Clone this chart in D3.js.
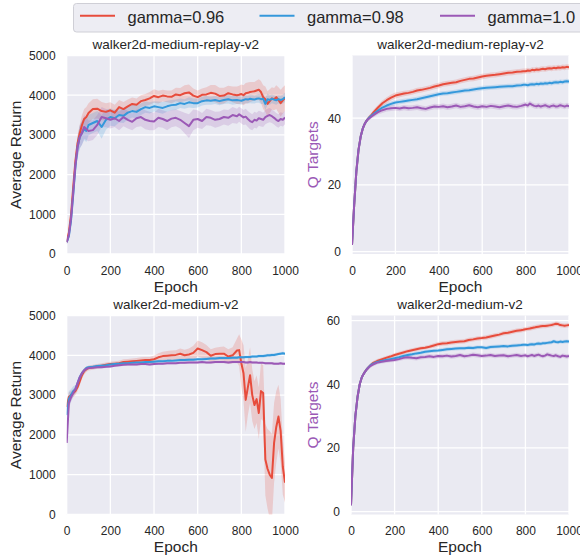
<!DOCTYPE html>
<html>
<head>
<meta charset="utf-8">
<script src="https://cdn.jsdelivr.net/npm/d3@7"></script>
<style>
  body { margin: 0; background: #fff; }
  text { font-family: "Liberation Sans", Arial, sans-serif; fill: #262626; }
</style>
</head>
<body>
<script>
// epochs shared by every series (denser at the start and near the end)
var epochs = [0,10,20,30,40,50,60,70,80,90,100,
  120,140,160,180,200,220,240,260,280,300,320,340,360,380,400,420,440,460,480,500,
  520,540,560,580,600,620,640,660,680,700,720,740,760,780,
  790,800,810,820,830,840,850,860,870,880,890,900,910,920,930,940,950,960,970,980,990,1000];

var seriesNames = ["gamma=0.96", "gamma=0.98", "gamma=1.0"];
var seriesColors = ["#e74c3c", "#3498db", "#9b59b6"];

var xTicks = [0, 200, 400, 600, 800, 1000];
var returnTicks = [0, 1000, 2000, 3000, 4000, 5000];
var qTicksTop = [0, 20, 40];
var qTicksBottom = [0, 20, 40, 60];

// ---- walker2d-medium-replay-v2, average return ----
var replayReturn096 = [300,550,1000,1700,2350,2800,3050,3250,3400,3450,3550,
  3650,3660,3600,3580,3620,3560,3700,3650,3720,3780,3760,3850,3880,3920,3980,3950,3990,3970,3960,4020,
  4000,4050,4070,3990,3950,4010,4020,4060,4040,3980,3990,4050,4020,4000,
  4010,4030,4000,4050,4060,4080,4090,4100,4120,4140,4080,3950,3900,3780,3850,3920,3900,3950,3880,3800,3870,3930];
var replayReturn098 = [300,450,850,1500,2200,2700,2950,3050,3150,3100,3250,
  3300,3350,3200,3380,3450,3420,3500,3480,3560,3600,3580,3650,3700,3680,3720,3700,3680,3720,3750,3760,
  3800,3780,3820,3800,3800,3850,3870,3860,3880,3850,3880,3900,3870,3880,
  3870,3860,3880,3900,3890,3910,3900,3890,3910,3920,3900,3910,3780,3900,3880,3910,3890,3870,3900,3880,3900,3950];
var replayReturn100 = [300,480,900,1550,2250,2700,2950,3050,3200,3150,3100,
  3120,3250,3450,3420,3380,3420,3350,3450,3380,3330,3420,3450,3380,3350,3340,3430,3400,3350,3410,3430,
  3380,3300,3220,3380,3400,3350,3450,3430,3380,3400,3450,3430,3500,3470,
  3520,3480,3440,3460,3400,3350,3320,3380,3360,3420,3400,3380,3450,3480,3500,3470,3430,3380,3350,3400,3380,3440];
var replayReturnSd096 = [60,100,150,200,200,200,220,250,250,250,250,
  250,250,230,220,200,200,180,180,170,160,160,150,150,160,170,160,150,150,160,170,
  180,200,200,180,170,160,180,200,220,210,200,190,200,220,
  230,240,250,260,260,250,240,230,250,260,280,300,320,320,300,280,280,300,320,340,330,320];
var replayReturnSd098 = [60,100,150,200,220,250,300,300,280,280,260,
  250,250,300,250,220,200,190,180,170,160,160,150,140,140,130,140,150,140,130,130,
  120,120,130,120,110,110,110,100,100,100,100,110,110,100,
  100,100,100,100,100,110,110,100,100,110,120,130,150,140,120,110,110,110,100,110,110,120];
var replayReturnSd100 = [60,100,150,200,220,250,280,300,300,280,260,
  250,250,250,230,220,220,230,230,220,210,220,230,240,230,220,230,220,230,220,210,
  220,260,300,260,220,200,210,200,200,190,190,200,200,190,
  190,190,190,200,200,210,200,200,200,190,190,180,180,180,180,170,170,170,170,170,170,170];

// ---- walker2d-medium-replay-v2, Q targets ----
var replayQ096 = [2,14,24,30.5,34.5,37,38.5,39.5,40.3,41,41.8,
  43.2,44.5,45.4,46.2,46.8,47.1,47.4,47.6,47.9,48.3,48.5,48.8,49.1,49.5,49.8,50.2,50.4,50.6,50.8,51.2,
  51.5,51.8,51.9,52.2,52.5,52.7,52.9,53.0,53.2,53.4,53.6,53.7,53.9,54.0,
  54.1,54.1,54.3,54.2,54.5,54.4,54.6,54.5,54.7,54.8,54.7,54.9,55.0,54.9,55.1,55.0,55.2,55.1,55.3,55.2,55.4,55.3];
var replayQ098 = [2,14,24,30.5,34.5,37,38.5,39.5,40.2,40.8,41.3,
  42.3,43.2,43.8,44.3,44.7,44.9,45.1,45.3,45.5,45.7,46.0,46.3,46.6,46.9,47.2,47.4,47.5,47.7,47.9,48.1,
  48.3,48.4,48.6,48.8,49.0,49.1,49.2,49.3,49.4,49.5,49.6,49.6,49.8,49.9,
  50.0,50.0,49.9,50.1,50.2,50.1,50.3,50.2,50.4,50.3,50.5,50.4,50.6,50.5,50.7,50.8,50.7,50.9,50.8,51.0,51.1,51.0];
var replayQ100 = [2,14,24,30.5,34.5,37,38.5,39.5,40.0,40.5,41.0,
  41.8,42.4,42.8,43.0,43.1,42.9,43.2,43.0,43.1,43.3,43.0,42.8,43.2,43.5,43.4,43.6,43.3,43.5,43.8,43.4,
  43.6,43.9,43.5,43.3,43.6,43.4,43.7,43.5,43.3,43.6,43.8,43.5,43.4,43.7,
  43.9,44.1,43.8,44.4,44.0,43.7,43.6,43.8,43.5,43.7,43.9,43.6,43.4,43.7,43.8,43.5,43.6,43.9,43.7,43.5,43.8,43.6];
var replayQSd096 = [0.3,0.5,0.6,0.6,0.6,0.6,0.6,0.6,0.7,0.7,0.8,
  0.8,0.8,0.9,0.9,0.9,0.8,0.8,0.8,0.8,0.8,0.8,0.8,0.8,0.8,0.8,0.8,0.8,0.8,0.8,0.8,
  0.8,0.8,0.8,0.8,0.8,0.8,0.8,0.8,0.8,0.8,0.8,0.8,0.8,0.8,
  0.8,0.8,0.8,0.8,0.8,0.8,0.8,0.8,0.8,0.8,0.8,0.8,0.8,0.8,0.8,0.8,0.8,0.8,0.8,0.8,0.8,0.8];
var replayQSd098 = [0.3,0.5,0.6,0.6,0.6,0.6,0.6,0.6,0.6,0.6,0.7,
  0.7,0.7,0.7,0.7,0.7,0.7,0.7,0.7,0.7,0.7,0.7,0.7,0.7,0.7,0.7,0.7,0.7,0.7,0.7,0.7,
  0.7,0.7,0.7,0.7,0.7,0.7,0.7,0.7,0.7,0.7,0.7,0.7,0.7,0.7,
  0.7,0.7,0.7,0.7,0.7,0.7,0.7,0.7,0.7,0.7,0.7,0.7,0.7,0.7,0.7,0.7,0.7,0.7,0.7,0.7,0.7,0.7];
var replayQSd100 = [0.3,0.5,0.6,0.6,0.6,0.6,0.6,0.6,0.6,0.6,0.7,
  0.7,0.8,0.8,0.8,0.8,0.8,0.8,0.8,0.8,0.8,0.8,0.8,0.8,0.8,0.8,0.8,0.8,0.8,0.8,0.8,
  0.8,0.8,0.8,0.8,0.8,0.8,0.8,0.8,0.8,0.8,0.8,0.8,0.8,0.8,
  0.8,0.8,0.8,0.8,0.8,0.8,0.8,0.8,0.8,0.8,0.8,0.8,0.8,0.8,0.8,0.8,0.8,0.8,0.8,0.8,0.8,0.8];

// ---- walker2d-medium-v2, average return ----
var mediumReturn096 = [2700,2950,3000,3050,3100,3200,3350,3500,3600,3650,3680,
  3700,3720,3740,3760,3780,3790,3800,3830,3840,3850,3860,3870,3880,3880,3900,3950,3980,3990,4000,4010,
  4040,4000,4020,4060,4170,4130,4080,3990,4030,4040,4040,3970,4000,4120,
  4130,3800,3550,2880,3200,3500,3000,2750,2900,2550,3100,3050,1380,1150,1000,920,1800,2200,2460,2100,1200,800];
var mediumReturn098 = [2500,2900,3000,3100,3150,3300,3450,3550,3620,3680,3700,
  3710,3730,3740,3750,3770,3780,3790,3800,3800,3810,3820,3820,3830,3830,3840,3850,3850,3860,3860,3870,
  3880,3880,3890,3890,3900,3900,3910,3920,3920,3930,3930,3930,3940,3940,
  3950,3950,3950,3960,3960,3960,3970,3970,3970,3980,3980,3980,3990,4000,4000,4010,4010,4020,4030,4040,4050,4040];
var mediumReturn100 = [1800,2800,2950,3050,3150,3300,3450,3550,3620,3660,3680,
  3690,3700,3700,3710,3720,3740,3750,3760,3770,3770,3770,3780,3780,3770,3780,3790,3790,3800,3800,3800,
  3810,3810,3820,3820,3820,3830,3820,3820,3830,3830,3830,3820,3830,3830,
  3830,3830,3830,3820,3820,3830,3820,3820,3820,3810,3810,3810,3800,3800,3800,3800,3790,3790,3790,3800,3790,3790];
var mediumReturnSd096 = [150,120,100,100,100,100,100,90,80,70,60,
  60,60,60,60,60,60,60,70,70,70,70,80,80,80,90,100,110,120,120,120,
  130,140,150,180,200,200,180,160,160,170,180,180,200,300,
  400,600,700,800,700,700,650,600,600,650,700,700,900,1000,1100,1100,1000,900,800,800,700,500];
var mediumReturnSd098 = [300,200,150,120,100,100,80,60,50,40,40,
  40,40,40,40,40,40,40,40,40,40,40,40,40,40,40,40,40,40,40,40,
  40,40,40,40,40,40,40,40,40,40,40,40,40,40,
  40,40,40,40,40,40,40,40,40,40,40,40,40,40,40,40,40,40,40,40,40,40];
var mediumReturnSd100 = [200,150,120,100,90,80,60,50,40,35,30,
  30,30,30,30,30,30,30,30,30,30,30,30,30,30,30,30,30,30,30,30,
  30,30,30,30,30,30,30,30,30,30,30,30,30,30,
  30,30,30,30,30,30,30,30,30,30,30,30,30,30,30,30,30,30,30,30,30,30];

// ---- walker2d-medium-v2, Q targets ----
var mediumQ096 = [2,20,30,36,40,42.3,43.5,44.5,45.3,46.0,46.6,
  47.3,47.8,48.3,48.7,49.2,49.6,50.0,50.4,50.7,51.0,51.3,51.5,51.8,52.2,52.6,52.8,52.9,53.1,53.3,53.4,
  53.5,53.9,54.1,54.4,54.5,54.7,55.0,55.3,55.6,56.0,56.2,56.5,56.8,57.0,
  57.1,57.3,57.4,57.5,57.7,57.8,58.0,58.1,58.2,58.3,58.3,58.4,58.5,58.6,58.8,59.0,58.9,58.6,58.5,58.4,58.5,58.6];
var mediumQ098 = [2,20,30,36,40,42.3,43.5,44.5,45.3,46.0,46.4,
  47.0,47.3,47.6,47.9,48.2,48.5,48.9,49.2,49.4,49.7,49.9,50.2,50.4,50.5,50.6,50.8,51.0,51.1,51.2,51.3,
  51.3,51.5,51.4,51.6,51.6,51.4,51.7,51.8,51.9,52.0,51.9,52.1,52.2,52.3,
  52.4,52.4,52.3,52.5,52.6,52.5,52.7,52.8,52.7,52.9,52.9,53.0,53.1,53.2,53.5,53.3,53.2,53.4,53.3,53.4,53.5,53.4];
var mediumQ100 = [2,20,30,36,40,42.3,43.5,44.5,45.2,45.8,46.2,
  46.8,47.1,47.3,47.5,47.6,47.9,48.3,48.5,48.3,48.2,48.5,48.6,48.8,48.6,48.9,48.8,49.0,48.7,48.9,49.2,
  48.8,49.0,49.3,49.1,48.9,49.0,49.2,48.9,49.0,49.1,48.8,49.0,49.2,48.9,
  49.0,49.1,48.8,49.0,49.2,48.9,49.1,49.3,49.0,48.8,49.0,49.4,49.2,49.0,48.9,49.1,48.8,48.6,49.0,48.9,48.7,48.9];
var mediumQSd096 = [0.3,0.6,0.6,0.6,0.6,0.6,0.6,0.6,0.6,0.6,0.6,
  0.6,0.6,0.6,0.6,0.6,0.6,0.6,0.6,0.6,0.6,0.6,0.6,0.6,0.7,0.7,0.7,0.7,0.7,0.7,0.7,
  0.7,0.7,0.7,0.7,0.7,0.7,0.7,0.7,0.7,0.7,0.7,0.7,0.7,0.7,
  0.7,0.7,0.7,0.7,0.7,0.7,0.7,0.7,0.7,0.7,0.7,0.7,0.7,0.7,0.7,0.7,0.7,0.7,0.7,0.7,0.7,0.7];
var mediumQSd098 = [0.3,0.6,0.6,0.6,0.6,0.6,0.6,0.6,0.6,0.6,0.6,
  0.6,0.6,0.6,0.6,0.6,0.6,0.6,0.6,0.6,0.6,0.6,0.6,0.6,0.6,0.6,0.6,0.6,0.6,0.6,0.6,
  0.6,0.6,0.6,0.6,0.6,0.6,0.6,0.6,0.6,0.6,0.6,0.6,0.6,0.6,
  0.6,0.6,0.6,0.6,0.6,0.6,0.6,0.6,0.6,0.6,0.6,0.6,0.6,0.6,0.6,0.6,0.6,0.6,0.6,0.6,0.6,0.6];
var mediumQSd100 = [0.3,0.6,0.6,0.6,0.6,0.6,0.6,0.6,0.6,0.6,0.6,
  0.6,0.6,0.6,0.6,0.6,0.6,0.7,0.7,0.7,0.7,0.7,0.7,0.7,0.7,0.7,0.7,0.7,0.7,0.7,0.7,
  0.7,0.7,0.7,0.7,0.7,0.7,0.7,0.7,0.7,0.7,0.7,0.7,0.7,0.7,
  0.7,0.7,0.7,0.7,0.7,0.7,0.7,0.7,0.7,0.7,0.7,0.7,0.7,0.7,0.7,0.7,0.7,0.7,0.7,0.7,0.7,0.7];

// panel layout (pixel boxes) + which arrays go where
var panels = [
  {left: 66.7, right: 285, top: 55.5, bottom: 254, yDomain: [0, 5000], yTicks: returnTicks,
   title: "walker2d-medium-replay-v2", yLabel: "Average Return", yLabelColor: "#262626", yLabelX: 16,
   means: [replayReturn096, replayReturn098, replayReturn100],
   sds: [replayReturnSd096, replayReturnSd098, replayReturnSd100]},
  {left: 352, right: 569, top: 55.5, bottom: 254, yDomain: [-0.7, 58.8], yTicks: qTicksTop,
   title: "walker2d-medium-replay-v2", yLabel: "Q Targets", yLabelColor: "#9b59b6", yLabelX: 313,
   means: [replayQ096, replayQ098, replayQ100],
   sds: [replayQSd096, replayQSd098, replayQSd100]},
  {left: 66.7, right: 285, top: 315.5, bottom: 514.5, yDomain: [0, 5000], yTicks: returnTicks,
   title: "walker2d-medium-v2", yLabel: "Average Return", yLabelColor: "#262626", yLabelX: 16,
   means: [mediumReturn096, mediumReturn098, mediumReturn100],
   sds: [mediumReturnSd096, mediumReturnSd098, mediumReturnSd100]},
  {left: 351, right: 569, top: 315.5, bottom: 514.5, yDomain: [-0.9, 61.6], yTicks: qTicksBottom,
   title: "walker2d-medium-v2", yLabel: "Q Targets", yLabelColor: "#9b59b6", yLabelX: 313,
   means: [mediumQ096, mediumQ098, mediumQ100],
   sds: [mediumQSd096, mediumQSd098, mediumQSd100]}
];

var svg = d3.select("body").append("svg")
    .attr("width", 580)
    .attr("height", 560);

panels.forEach(function(p, pi) {
    var x = d3.scaleLinear().domain([0, 1000]).range([p.left, p.right]);
    var y = d3.scaleLinear().domain(p.yDomain).range([p.bottom, p.top]);

    var g = svg.append("g");

    // clip so bands don't spill out of the axes
    svg.append("clipPath").attr("id", "clip" + pi)
      .append("rect")
        .attr("x", p.left).attr("y", p.top)
        .attr("width", p.right - p.left).attr("height", p.bottom - p.top);

    // background
    g.append("rect")
        .attr("x", p.left).attr("y", p.top)
        .attr("width", p.right - p.left).attr("height", p.bottom - p.top)
        .attr("fill", "#eaeaf2");

    // white grid
    g.selectAll(".vgrid").data(xTicks).enter().append("line")
        .attr("x1", function(d) { return x(d); }).attr("x2", function(d) { return x(d); })
        .attr("y1", p.top).attr("y2", p.bottom)
        .attr("stroke", "#fff").attr("stroke-width", 1.3);
    g.selectAll(".hgrid").data(p.yTicks).enter().append("line")
        .attr("x1", p.left).attr("x2", p.right)
        .attr("y1", function(d) { return y(d); }).attr("y2", function(d) { return y(d); })
        .attr("stroke", "#fff").attr("stroke-width", 1.3);

    var plot = g.append("g").attr("clip-path", "url(#clip" + pi + ")");

    // std bands first, then the mean lines on top
    p.means.forEach(function(m, si) {
        var sd = p.sds[si];
        var area = d3.area()
            .x(function(d, i) { return x(epochs[i]); })
            .y0(function(d, i) { return y(d - sd[i]); })
            .y1(function(d, i) { return y(d + sd[i]); });
        plot.append("path")
            .datum(m)
            .attr("d", area)
            .attr("fill", seriesColors[si])
            .attr("fill-opacity", 0.2);
    });
    p.means.forEach(function(m, si) {
        var line = d3.line()
            .x(function(d, i) { return x(epochs[i]); })
            .y(function(d) { return y(d); });
        plot.append("path")
            .datum(m)
            .attr("d", line)
            .attr("fill", "none")
            .attr("stroke", seriesColors[si])
            .attr("stroke-width", 2)
            .attr("stroke-linejoin", "round");
    });

    // axes: no tick marks, no domain line (seaborn darkgrid look)
    var xa = g.append("g")
        .attr("transform", "translate(0," + p.bottom + ")")
        .call(d3.axisBottom(x).tickValues(xTicks).tickSize(0).tickPadding(12).tickFormat(d3.format("d")));
    var ya = g.append("g")
        .attr("transform", "translate(" + p.left + ",0)")
        .call(d3.axisLeft(y).tickValues(p.yTicks).tickSize(0).tickPadding(11).tickFormat(d3.format("d")));
    [xa, ya].forEach(function(a) {
        a.select(".domain").remove();
        a.selectAll("text")
            .attr("font-size", 12)
            .attr("font-family", "Liberation Sans, Arial, sans-serif")
            .style("fill", "#262626");
    });

    // title + axis labels
    g.append("text")
        .attr("x", (p.left + p.right) / 2)
        .attr("y", p.top - 6.5)
        .attr("text-anchor", "middle")
        .attr("font-size", 13.5)
        .text(p.title);
    g.append("text")
        .attr("x", (p.left + p.right) / 2)
        .attr("y", p.bottom + 37.5)
        .attr("text-anchor", "middle")
        .attr("font-size", 15.5)
        .text("Epoch");
    g.append("text")
        .attr("transform", "translate(" + p.yLabelX + "," + ((p.top + p.bottom) / 2) + ") rotate(-90)")
        .attr("dy", "0.35em")
        .attr("text-anchor", "middle")
        .attr("font-size", 15.5)
        .style("fill", p.yLabelColor)
        .text(p.yLabel);
});

// legend along the top (runs off the right edge like the original)
var legend = svg.append("g");
legend.append("rect")
    .attr("x", 73.5).attr("y", 3.5)
    .attr("width", 530).attr("height", 28.5)
    .attr("rx", 3)
    .attr("fill", "#ededf3")
    .attr("stroke", "#cfcfd6");

var legendLineX = [80, 259.5, 440];
seriesNames.forEach(function(name, i) {
    legend.append("line")
        .attr("x1", legendLineX[i]).attr("x2", legendLineX[i] + 35)
        .attr("y1", 15.7).attr("y2", 15.7)
        .attr("stroke", seriesColors[i])
        .attr("stroke-width", 2);
    legend.append("text")
        .attr("x", legendLineX[i] + 47.5)
        .attr("y", 22.7)
        .attr("font-size", 16.5)
        .text(name);
});
</script>
</body>
</html>
